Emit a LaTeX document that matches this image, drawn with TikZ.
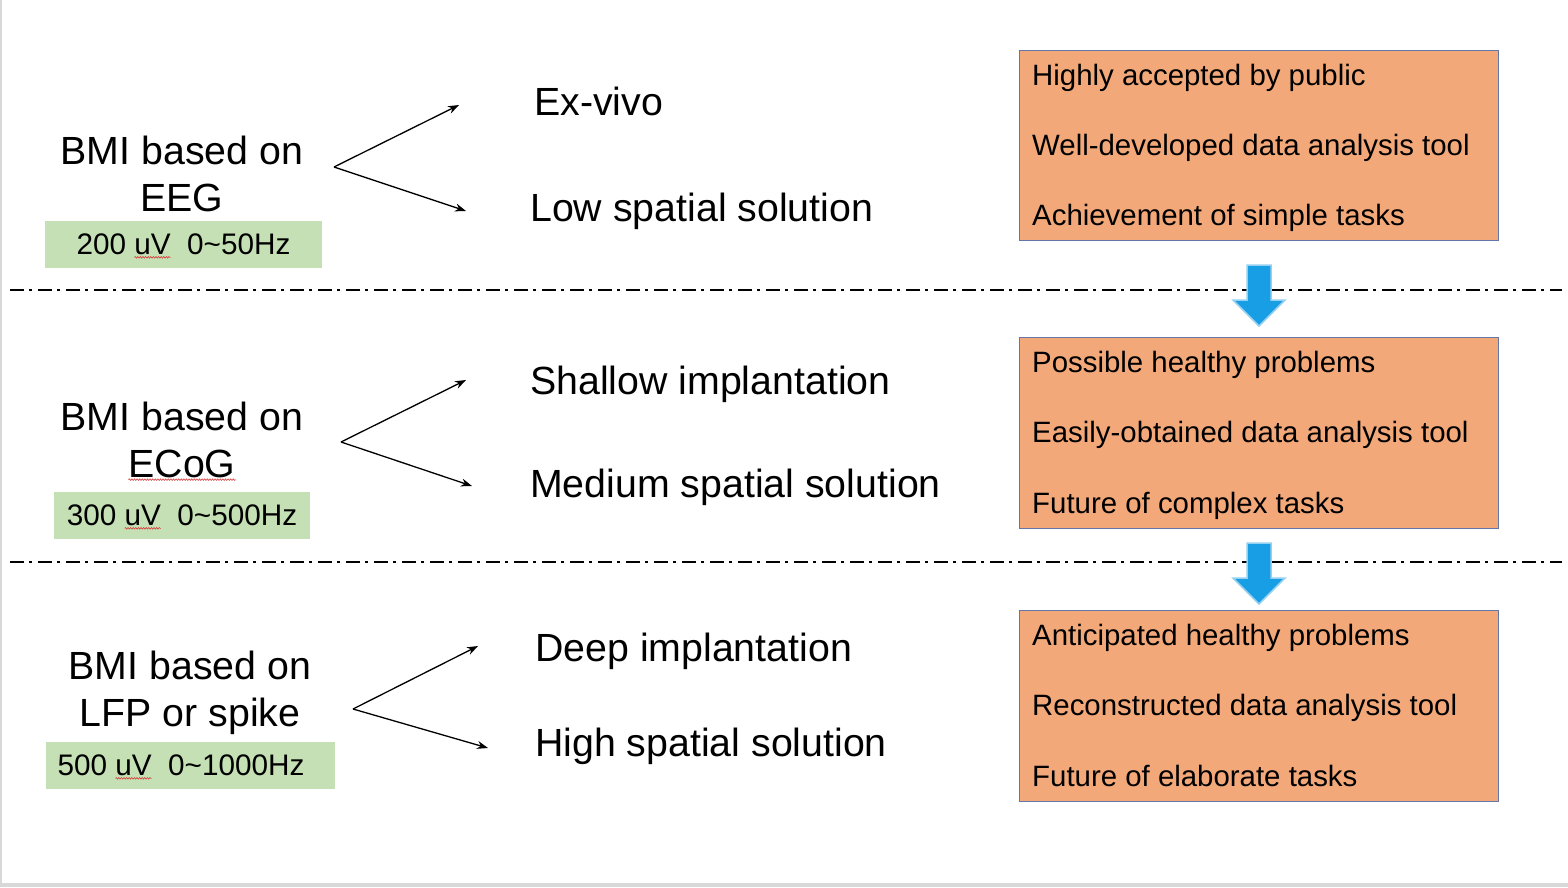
\documentclass[tikz,border=0pt]{standalone}
\usepackage{fontspec}
\setmainfont{Liberation Sans}
\usetikzlibrary{arrows.meta,decorations.pathmorphing}

\definecolor{orangefill}{RGB}{242,168,120}
\definecolor{orangeedge}{RGB}{100,118,168}
\definecolor{greenfill}{RGB}{197,224,180}
\definecolor{bluearrow}{RGB}{24,158,228}
\definecolor{bluearrowedge}{RGB}{150,208,240}
\definecolor{squigred}{RGB}{215,60,60}
\definecolor{framegray}{RGB}{216,216,216}

\newcommand\squig[1]{\setbox0\hbox{#1}\rlap{\tikz[overlay]\draw[squigred,line width=0.6pt,decorate,decoration={snake,amplitude=0.8pt,segment length=2.6pt}] (0,-2.6pt) -- (\wd0,-2.6pt);}\box0}

\begin{document}
\begin{tikzpicture}[x=1pt,y=-1pt,
  big/.style={font=\fontsize{39.3}{45}\selectfont, inner sep=0pt},
  small/.style={font=\fontsize{29.4}{34}\selectfont, inner sep=0pt},
  greenbox/.style={fill=greenfill, draw=none, inner sep=0pt, font=\fontsize{29.7}{34}\selectfont},
  orangebox/.style={fill=orangefill, draw=orangeedge, line width=1pt, inner sep=0pt},
  branch/.style={line width=1.3pt, -{Stealth[length=11pt,width=8pt]}},
  divider/.style={line width=1.6pt, dash pattern=on 14pt off 5pt on 3pt off 6pt},
  downarrow/.style={fill=bluearrow, draw=bluearrowedge, line width=1.5pt, line join=miter}
]
\useasboundingbox (0,0) rectangle (1568,887);
\fill[white] (0,0) rectangle (1568,887);
\fill[framegray] (0,0) rectangle (2,887);
\fill[framegray] (0,882.5) rectangle (1568,887);

% ---------- dividers ----------
\coordinate (d1a) at (10,290);
\coordinate (d1b) at (1562,290);
\coordinate (d2a) at (10,562);
\coordinate (d2b) at (1562,562);
\draw[divider] (d1a) -- (d1b);
\draw[divider] (d2a) -- (d2b);

% ---------- section 1 ----------
\node[big, anchor=base] (l1a) at (182,164) {BMI based on};
\node[big, anchor=base] (l1b) at (182,211) {EEG};
\node[greenbox, minimum width=277pt, minimum height=47pt] (g1) at (183.5,244.5) {200 \squig{uV}\ \ 0\textasciitilde50Hz};
\coordinate (o1) at (334,167);
\coordinate (e1a) at (459,105);
\coordinate (e1b) at (466,211);
\draw[branch] (o1) -- (e1a);
\draw[branch] (o1) -- (e1b);
\node[big, anchor=base west] (t1a) at (534,115) {Ex-vivo};
\node[big, anchor=base west] (t1b) at (530,221) {Low spatial solution};
\node[orangebox, minimum width=479pt, minimum height=190pt] (b1) at (1258.5,145) {};
\node[small, anchor=base west] (b1a) at (1032,85) {Highly accepted by public};
\node[small, anchor=base west] (b1b) at (1032,155) {Well-developed data analysis tool};
\node[small, anchor=base west] (b1c) at (1032,225) {Achievement of simple tasks};

% ---------- section 2 ----------
\node[big, anchor=base] (l2a) at (182,430) {BMI based on};
\node[big, anchor=base] (l2b) at (182,477) {\squig{ECoG}};
\node[greenbox, minimum width=256pt, minimum height=47pt] (g2) at (182,515.5) {300 \squig{uV}\ \ 0\textasciitilde500Hz};
\coordinate (o2) at (341,442);
\coordinate (e2a) at (466,380);
\coordinate (e2b) at (472,486);
\draw[branch] (o2) -- (e2a);
\draw[branch] (o2) -- (e2b);
\node[big, anchor=base west] (t2a) at (530,394) {Shallow implantation};
\node[big, anchor=base west] (t2b) at (530,497) {Medium spatial solution};
\node[orangebox, minimum width=479pt, minimum height=191pt] (b2) at (1258.5,432.5) {};
\node[small, anchor=base west] (b2a) at (1032,372) {Possible healthy problems};
\node[small, anchor=base west] (b2b) at (1032,442) {Easily-obtained data analysis tool};
\node[small, anchor=base west] (b2c) at (1032,513) {Future of complex tasks};

% ---------- section 3 ----------
\node[big, anchor=base] (l3a) at (190,679) {BMI based on};
\node[big, anchor=base] (l3b) at (190,726) {LFP or spike};
\node[greenbox, minimum width=289pt, minimum height=47pt] (g3) at (190.5,765.5) {500 \squig{uV}\ \ 0\textasciitilde1000Hz\rule{19pt}{0pt}};
\coordinate (o3) at (353,709);
\coordinate (e3a) at (478,646);
\coordinate (e3b) at (488,748);
\draw[branch] (o3) -- (e3a);
\draw[branch] (o3) -- (e3b);
\node[big, anchor=base west] (t3a) at (535,661) {Deep implantation};
\node[big, anchor=base west] (t3b) at (535,756) {High spatial solution};
\node[orangebox, minimum width=479pt, minimum height=191pt] (b3) at (1258.5,705.5) {};
\node[small, anchor=base west] (b3a) at (1032,645) {Anticipated healthy problems};
\node[small, anchor=base west] (b3b) at (1032,715) {Reconstructed data analysis tool};
\node[small, anchor=base west] (b3c) at (1032,786) {Future of elaborate tasks};

% ---------- blue arrows ----------
\draw[downarrow] (1247,265) -- (1271,265) -- (1271,300) -- (1285,300) -- (1259,326) -- (1233,300) -- (1247,300) -- cycle;
\draw[downarrow] (1247,543) -- (1271,543) -- (1271,578) -- (1285,578) -- (1259,604) -- (1233,578) -- (1247,578) -- cycle;
\end{tikzpicture}
\end{document}
